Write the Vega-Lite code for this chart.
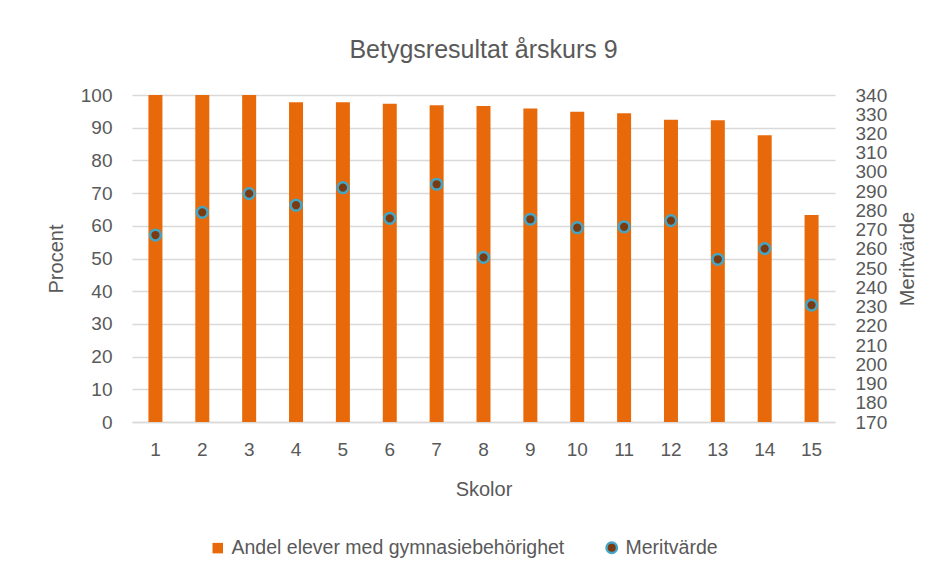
{
  "$schema": "https://vega.github.io/schema/vega-lite/v6.json",
  "width": 703,
  "height": 327,
  "autosize": "none",
  "padding": {"left": 132, "top": 95, "right": 109, "bottom": 152},
  "background": "white",
  "title": {"text": "Betygsresultat årskurs 9", "fontSize": 25, "font": "Liberation Sans", "fontWeight": "normal", "color": "#595959", "offset": 23},
  "config": {
    "view": {"stroke": null},
    "font": "Liberation Sans",
    "axis": {"labelFont": "Liberation Sans", "titleFont": "Liberation Sans", "labelColor": "#595959", "titleColor": "#595959", "labelFontSize": 19, "titleFontSize": 20, "titleFontWeight": "normal", "ticks": false, "gridColor": "#D9D9D9", "gridWidth": 1.3}
  },
  "data": {
    "values": [
      {"Skola": "1", "Andel": 100, "Merit": 267.2},
      {"Skola": "2", "Andel": 100, "Merit": 279.0},
      {"Skola": "3", "Andel": 100, "Merit": 288.7},
      {"Skola": "4", "Andel": 97.8, "Merit": 282.7},
      {"Skola": "5", "Andel": 97.8, "Merit": 291.8},
      {"Skola": "6", "Andel": 97.3, "Merit": 275.9},
      {"Skola": "7", "Andel": 96.9, "Merit": 293.6},
      {"Skola": "8", "Andel": 96.6, "Merit": 255.6},
      {"Skola": "9", "Andel": 95.9, "Merit": 275.4},
      {"Skola": "10", "Andel": 94.9, "Merit": 271.0},
      {"Skola": "11", "Andel": 94.4, "Merit": 271.5},
      {"Skola": "12", "Andel": 92.4, "Merit": 274.7},
      {"Skola": "13", "Andel": 92.3, "Merit": 254.6},
      {"Skola": "14", "Andel": 87.7, "Merit": 260.1},
      {"Skola": "15", "Andel": 63.3, "Merit": 230.8}
    ]
  },
  "encoding": {
    "x": {
      "field": "Skola", "type": "ordinal", "sort": null,
      "scale": {"paddingInner": 0.7, "paddingOuter": 0.35},
      "axis": {"title": "Skolor", "labelAngle": 0, "labelPadding": 18, "titlePadding": 20, "domainColor": "#D9D9D9", "domainWidth": 1.3, "grid": false}
    }
  },
  "layer": [
    {
      "mark": {"type": "bar", "size": 14},
      "encoding": {
        "y": {"field": "Andel", "type": "quantitative", "scale": {"domain": [0, 100], "nice": false},
          "axis": {"title": "Procent", "values": [0,10,20,30,40,50,60,70,80,90,100], "domain": false, "labelPadding": 20, "titlePadding": 14, "grid": true}},
        "color": {"datum": "Andel elever med gymnasiebehörighet", "type": "nominal",
          "scale": {"domain": ["Andel elever med gymnasiebehörighet", "Meritvärde"], "range": ["#E8690A", "#7A3B12"]},
          "legend": {
            "title": null, "orient": "none", "legendX": 76, "legendY": 443, "direction": "horizontal",
            "labelFontSize": 19.5, "labelColor": "#595959", "labelFont": "Liberation Sans", "labelLimit": 600,
            "symbolSize": 110, "columnPadding": 36, "labelOffset": 4,
            "encode": {"symbols": {"update": {
              "shape": {"signal": "datum.value == 'Meritvärde' ? 'circle' : 'square'"},
              "stroke": {"signal": "datum.value == 'Meritvärde' ? '#45A5C4' : null"},
              "strokeWidth": {"value": 2.5}
            }}}
          }}
      }
    },
    {
      "mark": {"type": "point", "filled": true, "size": 115, "stroke": "#45A5C4", "strokeWidth": 2.5, "opacity": 1},
      "encoding": {
        "y": {"field": "Merit", "type": "quantitative", "scale": {"domain": [170, 340], "nice": false, "zero": false},
          "axis": {"title": "Meritvärde", "orient": "right", "titleAngle": 270, "values": [170,180,190,200,210,220,230,240,250,260,270,280,290,300,310,320,330,340], "labelOverlap": false, "domain": false, "grid": false, "labelPadding": 20, "titlePadding": 31}},
        "color": {"datum": "Meritvärde", "type": "nominal"},
        "fill": {"value": "#7A3B12"}
      }
    }
  ],
  "resolve": {"scale": {"y": "independent"}}
}
